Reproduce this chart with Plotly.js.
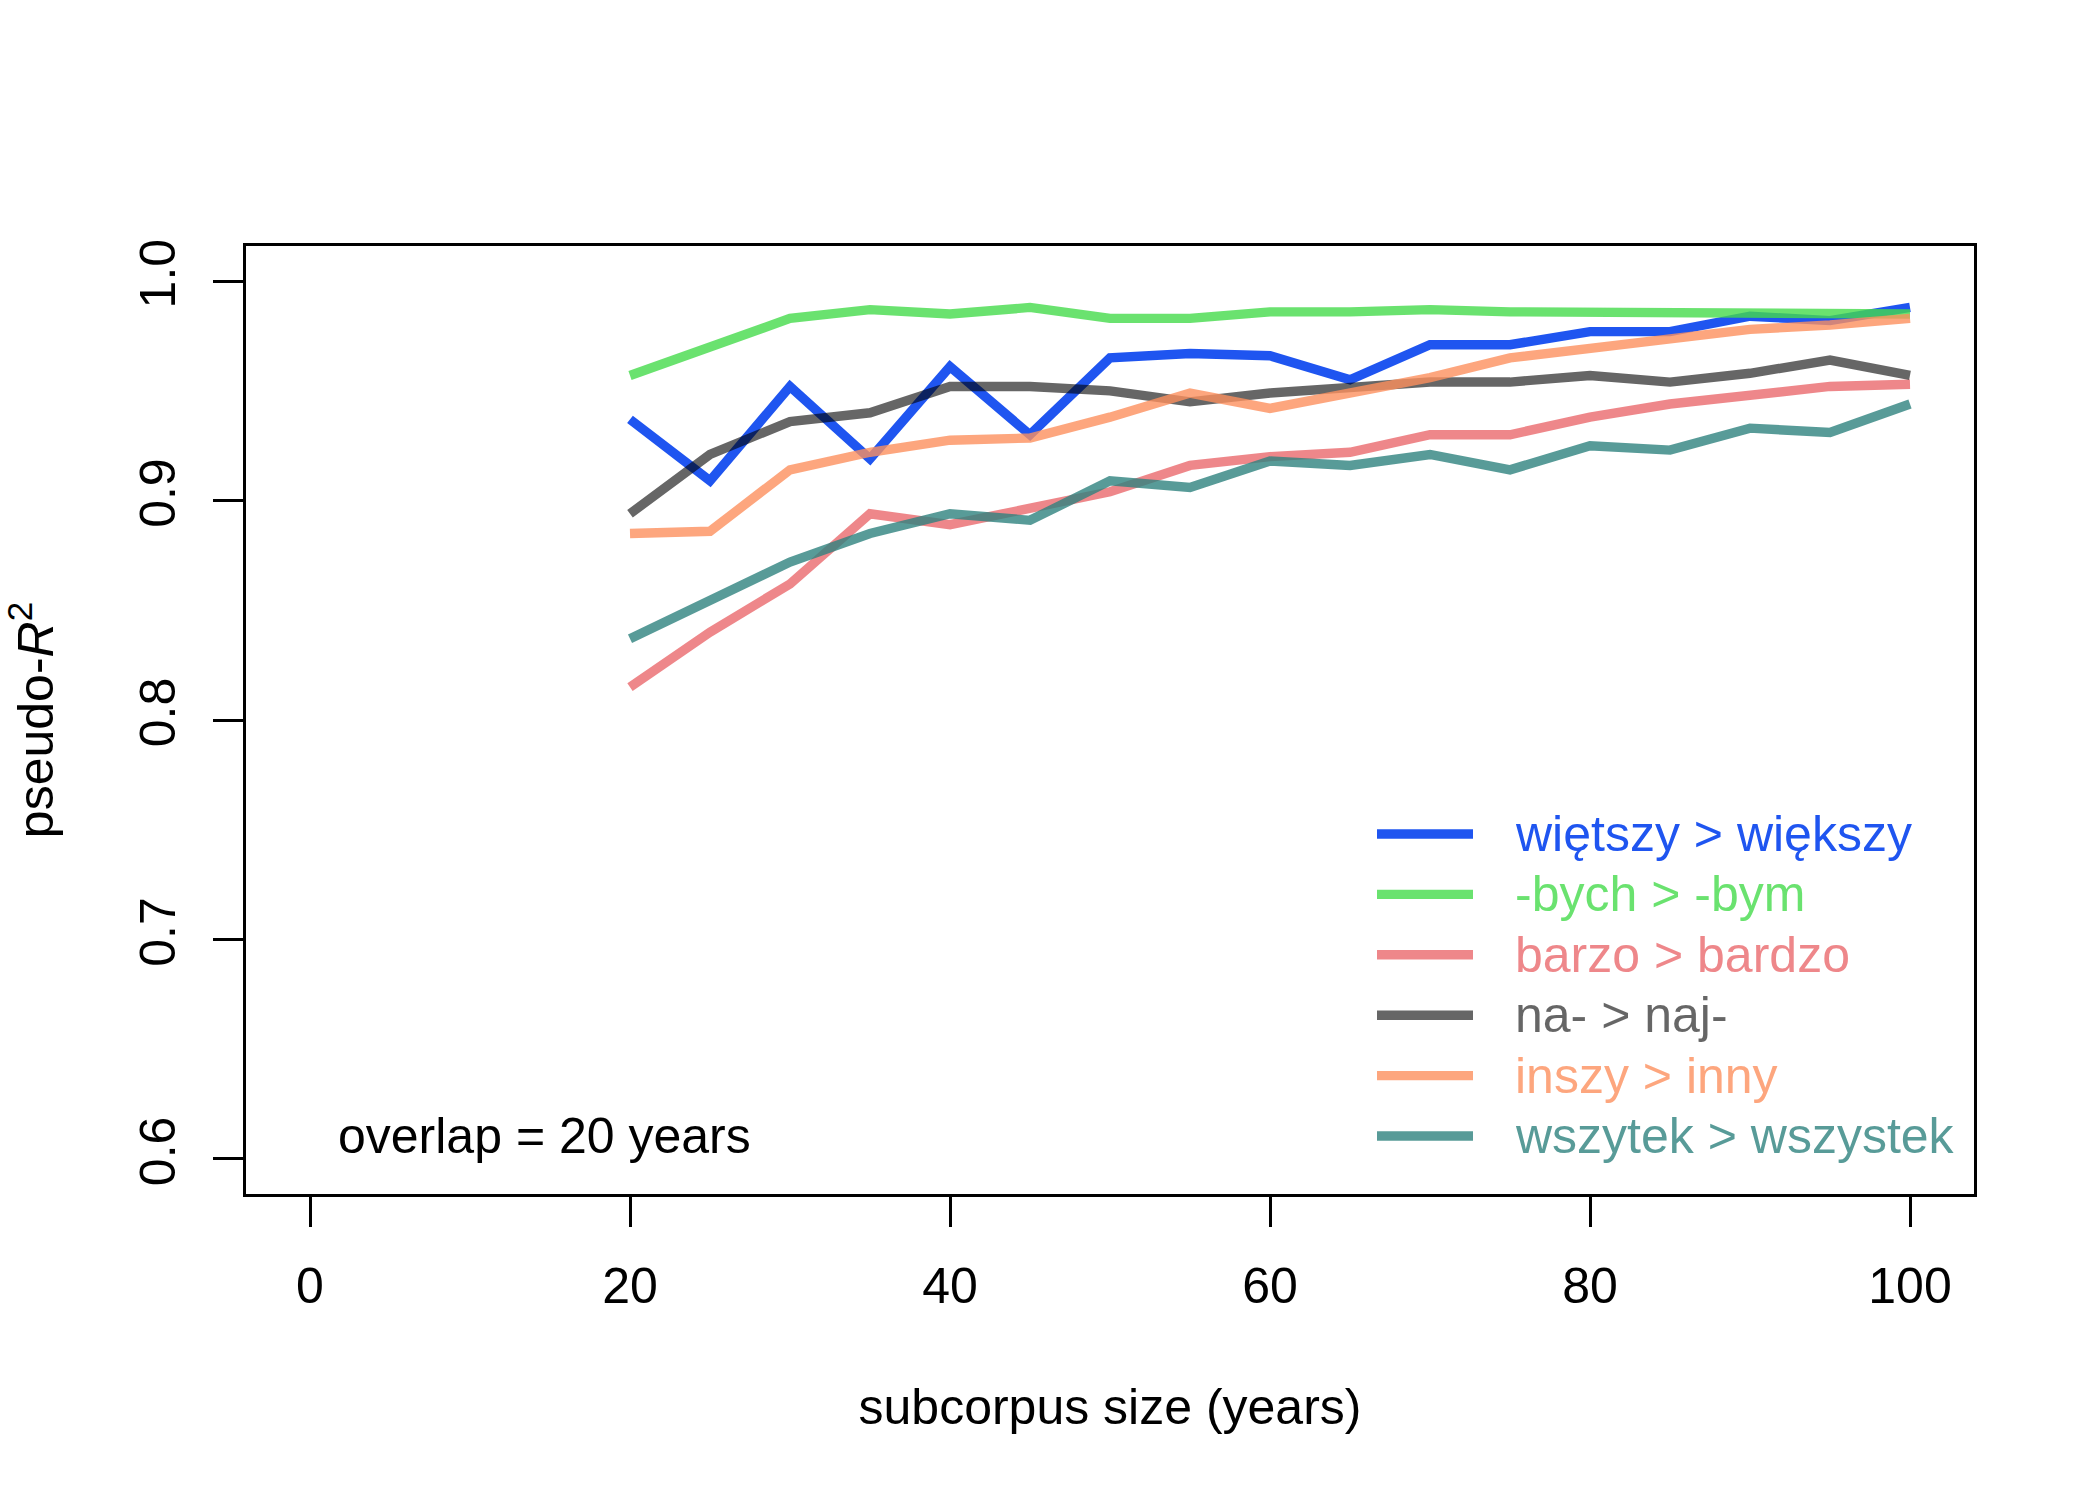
<!DOCTYPE html>
<html>
<head>
<meta charset="utf-8">
<script src="https://cdn.plot.ly/plotly-3.0.1.min.js"></script>
<style>
  html, body { margin: 0; padding: 0; background: #fff; }
  #chart { width: 2100px; height: 1500px; }
</style>
</head>
<body>
<div id="chart"></div>
<script>
// subcorpus size (years) on the x axis
const SIZES = [20, 25, 30, 35, 40, 45, 50, 55, 60, 65, 70, 75, 80, 85, 90, 95, 100];

// pseudo-R2 per change
const WIETSZY = [0.937, 0.909, 0.952, 0.919, 0.961, 0.930, 0.965, 0.967, 0.966, 0.955, 0.971, 0.971, 0.977, 0.977, 0.984, 0.982, 0.988];
const BYCH    = [0.957, 0.970, 0.983, 0.987, 0.985, 0.988, 0.983, 0.983, 0.986, 0.986, 0.987, 0.986, 0.986, 0.986, 0.986, 0.985, 0.985];
const BARZO   = [0.815, 0.840, 0.862, 0.894, 0.889, 0.897, 0.904, 0.916, 0.920, 0.922, 0.930, 0.930, 0.938, 0.944, 0.948, 0.952, 0.953];
const NA      = [0.894, 0.921, 0.936, 0.940, 0.952, 0.952, 0.950, 0.945, 0.949, 0.951, 0.954, 0.954, 0.957, 0.954, 0.958, 0.964, 0.957];
const INSZY   = [0.885, 0.886, 0.914, 0.922, 0.9275, 0.9285, 0.938, 0.949, 0.942, 0.949, 0.956, 0.965, 0.969, 0.973, 0.978, 0.980, 0.983];
const WSZYTEK = [0.837, 0.8545, 0.872, 0.885, 0.894, 0.891, 0.909, 0.906, 0.918, 0.916, 0.921, 0.914, 0.925, 0.923, 0.933, 0.931, 0.944];

const SERIES = [WIETSZY, BYCH, BARZO, NA, INSZY, WSZYTEK];
const NAMES = ['więtszy > większy', '-bych > -bym', 'barzo > bardzo', 'na- > naj-', 'inszy > inny', 'wszytek > wszystek'];
const COLORS = [
  'rgba(19,76,239,0.95)',
  'rgba(69,219,75,0.8)',
  'rgba(234,105,109,0.8)',
  'rgba(0,0,0,0.6)',
  'rgba(252,144,94,0.8)',
  'rgba(46,130,126,0.8)',
];

const X_TICKS = [0, 20, 40, 60, 80, 100];
const Y_TICKS = [0.6, 0.7, 0.8, 0.9, 1.0];
const NOTE = 'overlap = 20 years';

const FONT = 'Liberation Sans, Arial, Helvetica, sans-serif';
const LINE_W = 9.4;

// plot box in px (R default margins at 300 dpi)
const BOX = { l: 246, r: 1974, t: 246, b: 1194 };
const px2x = p => (p - BOX.l) / (BOX.r - BOX.l);
const px2y = p => (BOX.b - p) / (BOX.b - BOX.t);

const traces = SERIES.map((ys, i) => ({
  x: SIZES, y: ys,
  type: 'scatter', mode: 'lines',
  name: NAMES[i],
  line: { color: COLORS[i], width: LINE_W },
  hoverinfo: 'skip',
}));

// legend drawn like R's legend(): long key lines, text in series colour
const legendShapes = [];
const legendNotes = [];
NAMES.forEach((n, i) => {
  const yy = px2y(834 + i * 60.4);
  legendShapes.push({
    type: 'line', xref: 'paper', yref: 'paper',
    x0: px2x(1377), x1: px2x(1473), y0: yy, y1: yy,
    line: { color: COLORS[i], width: LINE_W },
  });
  legendNotes.push({
    xref: 'paper', yref: 'paper', x: px2x(1513), y: yy,
    xanchor: 'left', yanchor: 'middle', showarrow: false,
    text: n, font: { family: FONT, size: 50, color: COLORS[i] },
  });
});
legendNotes.push({
  xref: 'paper', yref: 'paper', x: px2x(336), y: px2y(1136),
  xanchor: 'left', yanchor: 'middle', showarrow: false,
  text: NOTE, font: { family: FONT, size: 50, color: '#000' },
});

const axisCommon = {
  showgrid: false, zeroline: false,
  showline: true, mirror: true, linecolor: '#000', linewidth: 3,
  ticks: 'outside', ticklen: 30, tickwidth: 2.5, tickcolor: '#000',
  tickfont: { family: FONT, size: 50, color: '#000' },
};

const layout = {
  width: 2100, height: 1500,
  paper_bgcolor: '#fff', plot_bgcolor: '#fff',
  font: { family: FONT, size: 50, color: '#000' },
  margin: { l: BOX.l, r: 2100 - BOX.r, t: BOX.t, b: 1500 - BOX.b },
  showlegend: false,
  xaxis: {
    ...axisCommon,
    range: [-4, 104],
    tickvals: X_TICKS,
    ticklabelstandoff: 16,
    title: { text: 'subcorpus size (years)', font: { family: FONT, size: 50 }, standoff: 76 },
  },
  yaxis: {
    ...axisCommon,
    range: [0.584, 1.016],
    tickvals: Y_TICKS,
    tickformat: '.1f',
    tickangle: -90,
    ticklabelstandoff: 18,
    title: { text: 'pseudo-<i>R</i><sup>2</sup>', font: { family: FONT, size: 50 }, standoff: 62 },
  },
  shapes: legendShapes,
  annotations: legendNotes,
};

Plotly.newPlot('chart', traces, layout, { displayModeBar: false, responsive: false });
</script>
</body>
</html>
